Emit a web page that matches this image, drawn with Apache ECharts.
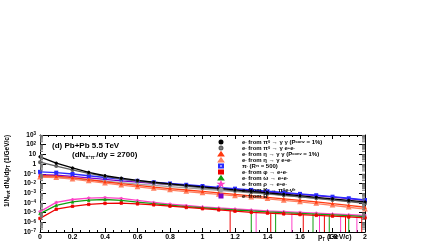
<!DOCTYPE html>
<html>
<head>
<meta charset="utf-8">
<script src="https://cdn.jsdelivr.net/npm/echarts@6/dist/echarts.min.js"></script>
<style>
  html, body { margin: 0; padding: 0; background: #fff; }
  #view { width: 436px; height: 245px; }
</style>
</head>
<body>
<div id="view"></div>
<script>
"use strict";
// pT bins (GeV/c)
var pt = [0, 0.1, 0.2, 0.3, 0.4, 0.5, 0.6, 0.7, 0.8, 0.9, 1.0, 1.1, 1.2, 1.3, 1.4, 1.5, 1.6, 1.7, 1.8, 1.9, 2.0];

// log10 of 1/Nevt dN/dpT (y axis is drawn in decades)
var pi0Conv   = [0.75, 0.1, -0.4, -0.85, -1.2, -1.45, -1.68, -1.87, -2.03, -2.19, -2.35, -2.5, -2.66, -2.81, -2.96, -3.11, -3.26, -3.42, -3.58, -3.74, -3.9];
var pi0Dal    = [0.2, -0.2, -0.6, -0.95, -1.27, -1.52, -1.75, -1.95, -2.12, -2.28, -2.44, -2.59, -2.75, -2.9, -3.05, -3.21, -3.37, -3.53, -3.7, -3.87, -4.05];
var etaConv   = [-1.2, -1.25, -1.4, -1.6, -1.82, -2.02, -2.2, -2.37, -2.52, -2.67, -2.82, -2.97, -3.12, -3.27, -3.42, -3.58, -3.74, -3.9, -4.07, -4.25, -4.45];
var etaDal    = [-1.35, -1.4, -1.55, -1.75, -1.97, -2.17, -2.35, -2.52, -2.68, -2.83, -2.98, -3.13, -3.28, -3.43, -3.58, -3.74, -3.9, -4.07, -4.25, -4.45, -4.65];
var pionMisId = [-0.8, -0.88, -1.02, -1.2, -1.38, -1.55, -1.72, -1.87, -2.0, -2.13, -2.26, -2.4, -2.53, -2.66, -2.8, -2.93, -3.07, -3.21, -3.36, -3.52, -3.7];
var phiEE     = [-5.6, -4.65, -4.35, -4.15, -4.05, -4.02, -4.1, -4.2, -4.33, -4.47, -4.6, -4.72, -4.85, -4.97, -5.05, -5.13, -5.2, -5.28, -5.36, -5.45, -5.55];
var omegaEE   = [-5.1, -4.25, -3.9, -3.72, -3.65, -3.74, -3.92, -4.08, -4.24, -4.38, -4.5, -4.62, -4.73, -4.83, -4.92, -5.0, -5.07, -5.15, -5.23, -5.32, -5.42];
var rhoEE     = [-4.9, -3.95, -3.65, -3.5, -3.45, -3.54, -3.75, -3.95, -4.12, -4.27, -4.4, -4.52, -4.63, -4.73, -4.82, -4.9, -4.98, -5.06, -5.14, -5.22, -5.3];
var kaonE3    = [-1.3, -1.36, -1.47, -1.62, -1.77, -1.92, -2.06, -2.2, -2.33, -2.46, -2.58, -2.7, -2.83, -2.96, -3.09, -3.23, -3.37, -3.52, -3.67, -3.82, -3.98];
var beautyE   = [-1.1, -1.15, -1.27, -1.42, -1.57, -1.72, -1.86, -1.98, -2.1, -2.22, -2.34, -2.47, -2.6, -2.73, -2.86, -2.99, -3.12, -3.25, -3.4, -3.56, -3.75];

// points at high pT whose error bars reach the bottom of the frame
var barPts = [[1.17, -4.8], [1.3, -4.95], [1.33, -4.85], [1.42, -5.0], [1.45, -4.95], [1.55, -5.05], [1.62, -5.2], [1.68, -5.1],
              [1.72, -5.15], [1.75, -5.25], [1.78, -5.15], [1.85, -5.35], [1.88, -5.25], [1.9, -5.3], [1.95, -5.45], [1.98, -5.35]];

var yMin = -7, yMax = 3;

var names = ['pi0Conv', 'pi0Dal', 'etaConv', 'etaDal', 'pion', 'phi', 'omega', 'rho', 'kaon', 'beauty'];
var labels = {
  pi0Conv: 'e{sup|-} from π{sup|0} → γ γ (P{sub|conv} = 1%)',
  pi0Dal:  'e{sup|-} from π{sup|0} → γ e{sup|+}e{sup|-}',
  etaConv: 'e{sup|-} from η → γ γ (P{sub|conv} = 1%)',
  etaDal:  'e{sup|-} from η → γ e{sup|+}e{sup|-}',
  pion:    'π{sup|-} (R{sub|π} = 500)',
  phi:     'e{sup|-} from φ → e{sup|+}e{sup|-}',
  omega:   'e{sup|-} from ω → e{sup|+}e{sup|-}',
  rho:     'e{sup|-} from ρ → e{sup|+}e{sup|-}',
  kaon:    'e{sup|-} from K{sup|-} → π{sup|0}e{sup|-}ν̄{sub|e}',
  beauty:  'e{sup|-} from B̄'
};
var starPath = 'path://M5,0 L6.2,3.6 L10,3.6 L7,5.9 L8.1,9.5 L5,7.3 L1.9,9.5 L3,5.9 L0,3.6 L3.8,3.6 Z';
var crossPath = 'path://M3,0 L7,0 L7,3 L10,3 L10,7 L7,7 L7,10 L3,10 L3,7 L0,7 L0,3 L3,3 Z';
var boxXPath = 'path://M0,0 L10,0 L10,10 L0,10 Z M1,1 L9,9 M9,1 L1,9';

function pts(arr){ return arr.map(function(v, i){ return [pt[i], v]; }); }
function mk(name, arr, color, symbol, size){
  return { name: name, type: 'line', data: pts(arr), symbol: symbol, symbolSize: size || 2,
    showSymbol: true, itemStyle: { color: color, borderColor: color, borderWidth: 0.8 },
    lineStyle: { color: color, width: 1.3 }, animation: false, z: 3 };
}

// log minor ticks (2..9 x 10^e) on both vertical frame sides
var minorLog = [];
for (var e = yMin; e < yMax; e++)
  for (var k = 2; k <= 9; k++) minorLog.push([0, e + Math.log(k) / Math.LN10]);

var series = [
  mk('beauty', beautyE, '#7a00c8', 'rect', 2),
  mk('kaon', kaonE3, '#a0a0a0', crossPath, 2.5),
  mk('etaDal', etaDal, '#ff8060', 'emptyTriangle', 2.5),
  mk('etaConv', etaConv, '#ff3a10', 'triangle', 2.5),
  mk('pion', pionMisId, '#2a2aff', 'emptyRect', 2),
  mk('pi0Dal', pi0Dal, '#606060', 'emptyCircle', 2),
  mk('pi0Conv', pi0Conv, '#000000', 'circle', 2.5),
  mk('rho', rhoEE, '#ff40c8', starPath, 3),
  mk('omega', omegaEE, '#10a010', 'triangle', 2.5),
  mk('phi', phiEE, '#ee0000', 'rect', 2.5),
  { type: 'custom', coordinateSystem: 'cartesian2d', z: 2, animation: false, silent: true,
    data: barPts,
    renderItem: function(params, api){
      var cols = ['#ee0000', '#10a010', '#ff40c8'];
      var p1 = api.coord([api.value(0), api.value(1)]);
      var p2 = api.coord([api.value(0), yMin]);
      return { type: 'line', shape: { x1: p1[0], y1: p1[1], x2: p2[0], y2: p2[1] },
        style: { stroke: cols[params.dataIndex % 3], lineWidth: 1 } };
    } },
  { type: 'custom', coordinateSystem: 'cartesian2d', z: 4, animation: false, silent: true,
    data: minorLog,
    renderItem: function(params, api){
      var pl = api.coord([0, api.value(1)]), pr = api.coord([2, api.value(1)]);
      return { type: 'group', children: [
        { type: 'line', shape: { x1: pl[0], y1: pl[1], x2: pl[0] + 3, y2: pl[1] }, style: { stroke: '#777', lineWidth: 1 } },
        { type: 'line', shape: { x1: pr[0], y1: pr[1], x2: pr[0] - 3, y2: pr[1] }, style: { stroke: '#777', lineWidth: 1 } }
      ] };
    } }
];

var legendIcons = { pi0Conv: 'circle', pi0Dal: 'emptyCircle', etaConv: 'triangle', etaDal: 'emptyTriangle',
  pion: 'emptyRect', phi: 'rect', omega: 'triangle', rho: starPath, kaon: crossPath, beauty: boxXPath };

var font = '"Liberation Sans", Arial, sans-serif';
var decadeFmt = function(e){
  e = Math.round(e);
  if (e === 0) return '1';
  if (e === 1) return '10';
  return '10{s|' + (e < 0 ? '−' + (-e) : e) + '}';
};
var yAxisBase = function(pos, showLabel){
  return { type: 'value', min: yMin, max: yMax, interval: 1, position: pos,
    axisLine: { onZero: false, lineStyle: { color: '#000', width: 1 } },
    axisTick: { inside: true, length: 6, lineStyle: { color: '#000' } },
    splitLine: { show: false },
    axisLabel: { show: showLabel, fontFamily: font, fontWeight: 'bold', fontSize: 6.5, color: '#000', margin: 4,
      formatter: decadeFmt,
      rich: { s: { fontSize: 4.5, fontWeight: 'bold', fontFamily: font, verticalAlign: 'top', lineHeight: 6 } } } };
};
var xAxisBase = function(pos, showLabel){
  return { type: 'value', min: 0, max: 2, interval: 0.2, position: pos,
    axisLine: { onZero: false, lineStyle: { color: '#000', width: 1 } },
    axisTick: { inside: true, length: 4, lineStyle: { color: '#000' } },
    minorTick: { show: true, splitNumber: 4, length: 2, lineStyle: { color: '#000' } },
    splitLine: { show: false },
    axisLabel: { show: showLabel, fontFamily: font, fontWeight: 'bold', fontSize: 7, color: '#000', margin: 2,
      formatter: function(v){ return v === 0 ? '0' : (Math.round(v * 10) / 10).toString(); } } };
};

var option = {
  animation: false,
  grid: { left: 40, right: 71, top: 135, bottom: 13 },
  xAxis: [ xAxisBase('bottom', true), xAxisBase('top', false) ],
  yAxis: [ yAxisBase('left', true), yAxisBase('right', false) ],
  legend: {
    orient: 'vertical', left: 218, top: 139, itemGap: 0, itemWidth: 4, itemHeight: 3,
    selectedMode: false, padding: 0,
    data: names.map(function(n){ return { name: n, icon: legendIcons[n] }; }),
    formatter: function(n){ return labels[n]; },
    textStyle: { fontFamily: font, fontWeight: 'bold', fontSize: 6, lineHeight: 4, color: '#000', padding: [0, 0, 0, 14],
      rich: {
        sup: { fontSize: 4, fontWeight: 'bold', fontFamily: font, verticalAlign: 'top', lineHeight: 4 },
        sub: { fontSize: 4, fontWeight: 'bold', fontFamily: font, verticalAlign: 'bottom', lineHeight: 4 }
      } }
  },
  graphic: [
    { type: 'text', left: 52, top: 142, style: { text: '(d) Pb+Pb 5.5 TeV', font: 'bold 8px ' + font, fill: '#000' } },
    { type: 'text', left: 72, top: 151, style: {
        text: '(dN{sub|π⁺π⁻}/dy = 2700)', font: 'bold 8px ' + font, fill: '#000',
        rich: { sub: { fontSize: 4.5, fontWeight: 'bold', fontFamily: font, verticalAlign: 'bottom', lineHeight: 10 } } } },
    { type: 'text', left: 318, top: 234, style: {
        text: 'p{sub|T} (GeV/c)', font: 'bold 7px ' + font, fill: '#000',
        rich: { sub: { fontSize: 4.5, fontWeight: 'bold', fontFamily: font, verticalAlign: 'bottom', lineHeight: 9 } } } },
    { type: 'text', x: 3, y: 207, rotation: Math.PI / 2, style: {
        text: '1/N{sub|evt} dN{sub|e}/dp{sub|T} (1/GeV/c)', font: 'bold 6.5px ' + font, fill: '#000',
        rich: { sub: { fontSize: 4.5, fontWeight: 'bold', fontFamily: font, verticalAlign: 'bottom', lineHeight: 8 } } } }
  ],
  series: series
};

echarts.init(document.getElementById('view')).setOption(option);
</script>
</body>
</html>
